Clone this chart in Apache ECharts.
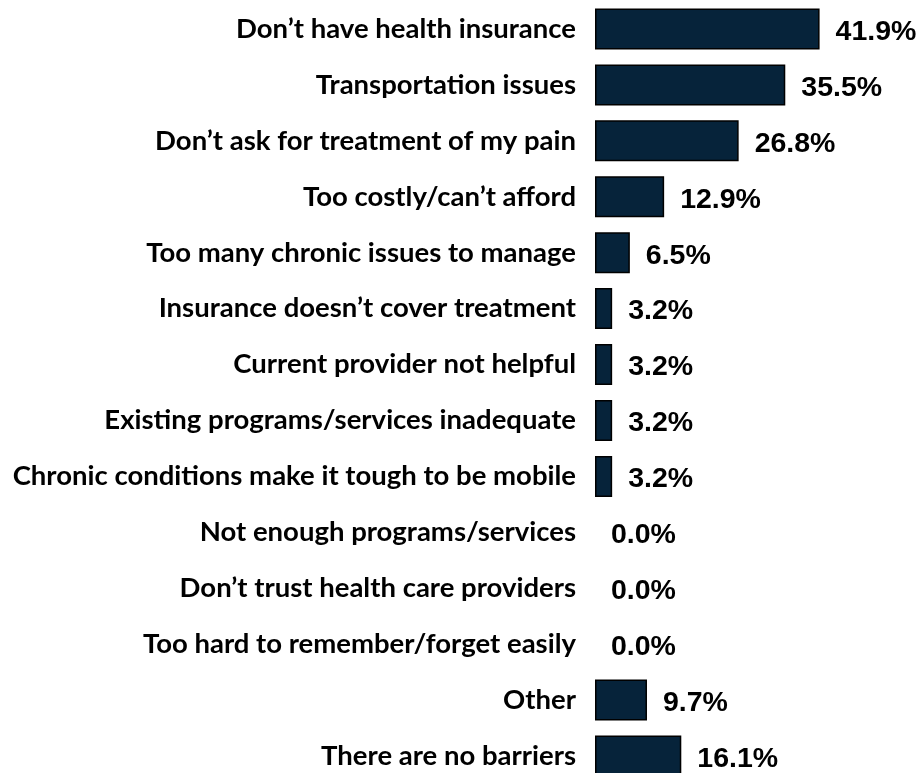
<!DOCTYPE html>
<html><head><meta charset="utf-8">
<script src="https://cdn.jsdelivr.net/npm/echarts@6/dist/echarts.min.js"></script>
<style>html,body{margin:0;padding:0;background:#fff;overflow:hidden;width:921px;height:773px}#c{width:921px;height:785px}</style>
</head><body><div id="c"></div>
<script>
const categories = [
  "Don’t have health insurance",
  "Transportation issues",
  "Don’t ask for treatment of my pain",
  "Too costly/can’t afford",
  "Too many chronic issues to manage",
  "Insurance doesn’t cover treatment",
  "Current provider not helpful",
  "Existing programs/services inadequate",
  "Chronic conditions make it tough to be mobile",
  "Not enough programs/services",
  "Don’t trust health care providers",
  "Too hard to remember/forget easily",
  "Other",
  "There are no barriers"
];
const values = [41.9, 35.5, 26.8, 12.9, 6.5, 3.2, 3.2, 3.2, 3.2, 0.0, 0.0, 0.0, 9.7, 16.1];

const chart = echarts.init(document.getElementById('c'), null, {renderer: 'canvas'});
chart.setOption({
  animation: false,
  grid: {left: 595, top: 1, width: 268, height: 783, containLabel: false},
  xAxis: {type: 'value', min: 0, max: 50, show: false},
  yAxis: {
    type: 'category', data: categories, inverse: true,
    axisLine: {show: false}, axisTick: {show: false},
    axisLabel: {margin: 19, color: '#000', fontFamily: 'Lato', fontWeight: 'bold', fontSize: 27.5}
  },
  series: [{
    type: 'bar', barWidth: 41,
    data: values.map(v => ({value: v, itemStyle: v === 0 ? {borderWidth: 0} : {}})),
    itemStyle: {color: '#06233a', borderColor: '#000', borderWidth: 1.5},
    label: {
      show: true, position: 'right', distance: 16, offset: [0, 3],
      color: '#000', fontFamily: 'Liberation Sans', fontWeight: 'bold', fontSize: 28.5,
      formatter: p => p.value.toFixed(1) + '%'
    }
  }]
});
</script></body></html>
